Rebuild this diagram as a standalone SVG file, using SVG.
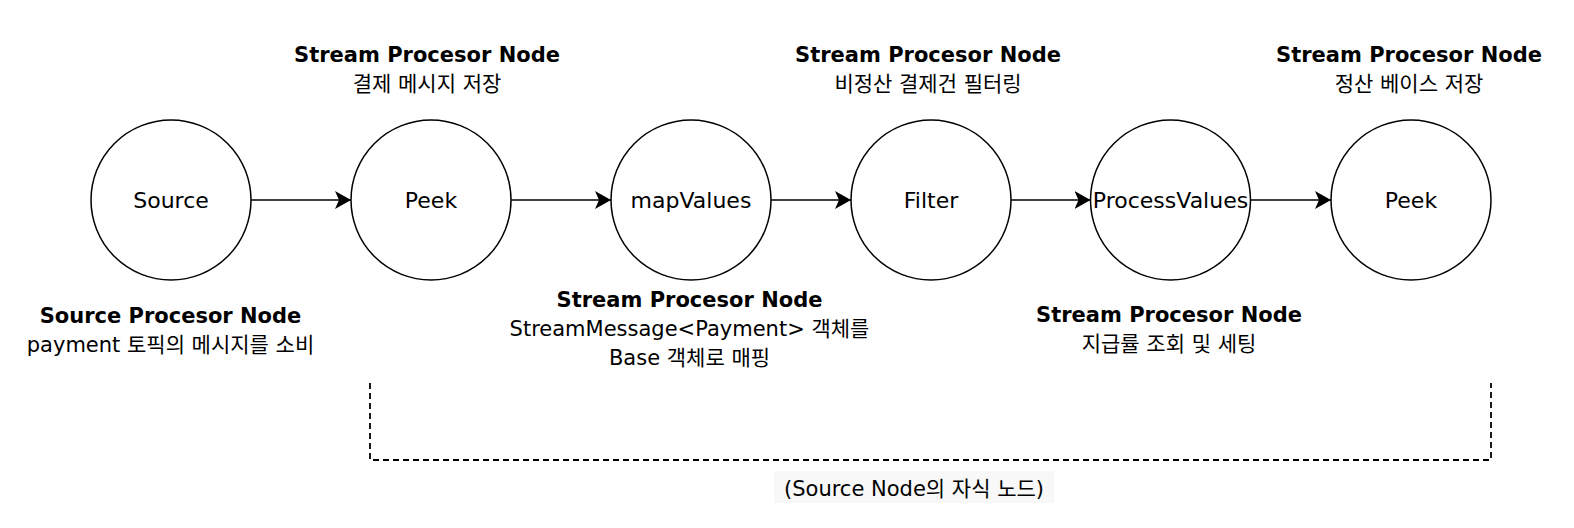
<svg xmlns="http://www.w3.org/2000/svg" width="1574" height="528" viewBox="0 0 1574 528">
<style>
.node{fill:#fff;stroke:#000;stroke-width:1.5}
.lbl{font-family:"DejaVu Sans","Noto Sans CJK KR",sans-serif;font-size:22px;fill:#000;text-anchor:middle}
.b{font-family:"DejaVu Sans","Noto Sans CJK KR",sans-serif;font-size:21px;font-weight:bold;fill:#000;text-anchor:middle}
.k{font-family:"DejaVu Sans","Noto Sans CJK KR",sans-serif;font-size:21px;fill:#000;text-anchor:middle}
.edge{fill:none;stroke:#000;stroke-width:1.6}
</style>
<defs>
<marker id="arr" markerUnits="userSpaceOnUse" markerWidth="20" markerHeight="20" refX="16" refY="9" orient="auto">
<path d="M0,0 L16,9 L0,18 L4,9 Z" fill="#000"/>
</marker>
</defs>
<rect width="1574" height="528" fill="#fff"/>
<g id="connectors">
<line class="edge" x1="251" y1="200" x2="351" y2="200" marker-end="url(#arr)"/>
<line class="edge" x1="511" y1="200" x2="611" y2="200" marker-end="url(#arr)"/>
<line class="edge" x1="771" y1="200" x2="851" y2="200" marker-end="url(#arr)"/>
<line class="edge" x1="1011" y1="200" x2="1090.5" y2="200" marker-end="url(#arr)"/>
<line class="edge" x1="1250.5" y1="200" x2="1331" y2="200" marker-end="url(#arr)"/>
</g>
<g id="node-source">
<circle class="node" cx="171" cy="200" r="80"/>
<text class="lbl" x="171" y="208">Source</text>
</g>
<g id="node-peek1">
<circle class="node" cx="431" cy="200" r="80"/>
<text class="lbl" x="431" y="208">Peek</text>
</g>
<g id="node-mapvalues">
<circle class="node" cx="691" cy="200" r="80"/>
<text class="lbl" x="691" y="208">mapValues</text>
</g>
<g id="node-filter">
<circle class="node" cx="931" cy="200" r="80"/>
<text class="lbl" x="931" y="208">Filter</text>
</g>
<g id="node-processvalues">
<circle class="node" cx="1170.5" cy="200" r="80"/>
<text class="lbl" x="1170.5" y="208">ProcessValues</text>
</g>
<g id="node-peek2">
<circle class="node" cx="1411" cy="200" r="80"/>
<text class="lbl" x="1411" y="208">Peek</text>
</g>
<g id="label-source">
<text class="b" x="170.5" y="323">Source Procesor Node</text>
<text class="k" x="170.5" y="352">payment 토픽의 메시지를 소비</text>
</g>
<g id="label-peek1">
<text class="b" x="427" y="62">Stream Procesor Node</text>
<text class="k" x="427" y="91">결제 메시지 저장</text>
</g>
<g id="label-mapvalues">
<text class="b" x="689.5" y="307">Stream Procesor Node</text>
<text class="k" x="689.5" y="336">StreamMessage&lt;Payment&gt; 객체를</text>
<text class="k" x="689.5" y="365">Base 객체로 매핑</text>
</g>
<g id="label-filter">
<text class="b" x="928" y="62">Stream Procesor Node</text>
<text class="k" x="928" y="91">비정산 결제건 필터링</text>
</g>
<g id="label-processvalues">
<text class="b" x="1169" y="322">Stream Procesor Node</text>
<text class="k" x="1169" y="351">지급률 조회 및 세팅</text>
</g>
<g id="label-peek2">
<text class="b" x="1409" y="62">Stream Procesor Node</text>
<text class="k" x="1409" y="91">정산 베이스 저장</text>
</g>
<g id="group-bracket">
<path d="M370,383 L370,460 L1491,460 L1491,383" fill="none" stroke="#000" stroke-width="1.8" stroke-dasharray="6 4"/>
<rect x="774" y="471" width="280" height="32" fill="#f8f8f8"/>
<text x="914" y="496" style="font-family:'DejaVu Sans','Noto Sans CJK KR',sans-serif;font-size:21px;text-anchor:middle">(Source Node의 자식 노드)</text>
</g>
</svg>
